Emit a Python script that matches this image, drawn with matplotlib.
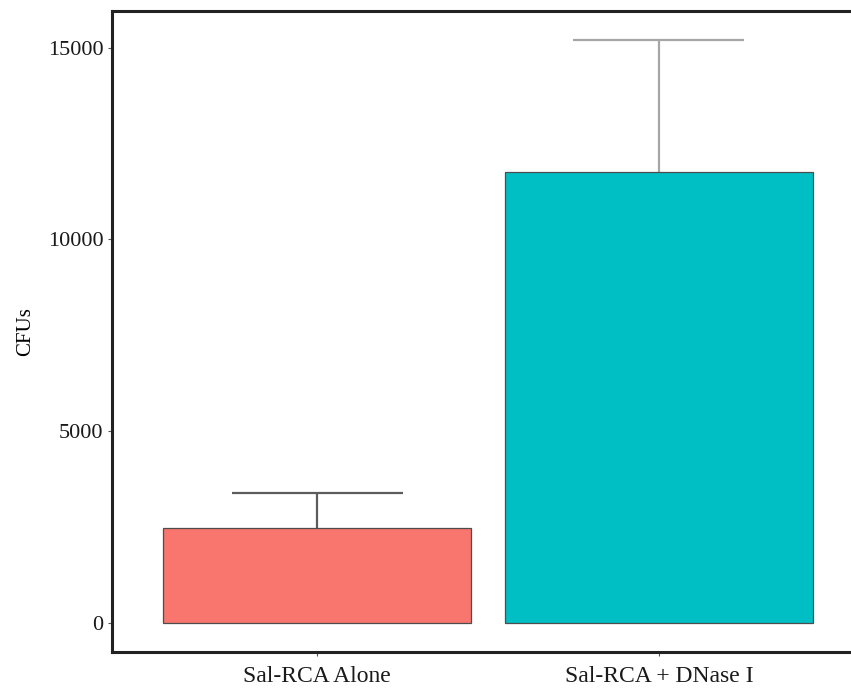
import matplotlib
matplotlib.use("Agg")
import matplotlib.pyplot as plt

# CFU counts per treatment (mean and upper error)
groups = ["Sal-RCA Alone", "Sal-RCA + DNase I"]
cfu_mean = [2470, 11750]
cfu_upper = [3400, 15200]
bar_colors = ["#F8766D", "#00BFC4"]
err_colors = ["#5c5c5c", "#a6a6a6"]

plt.rcParams['font.family'] = ['Liberation Serif', 'DejaVu Serif']

fig = plt.figure(figsize=(8.51, 6.88), dpi=100)
ax = fig.add_axes([112 / 851, 1 - 652 / 688, (864 - 112) / 851, (652 - 11) / 688])

x = list(range(1, len(groups) + 1))
ax.bar(x, cfu_mean, width=0.9, color=bar_colors, edgecolor="#4d4d4d",
       linewidth=0.9, zorder=2)

for xi, m, u, c in zip(x, cfu_mean, cfu_upper, err_colors):
    ax.vlines(xi, m, u, color=c, linewidth=1.6, zorder=1)
    ax.hlines(u, xi - 0.25, xi + 0.25, color=c, linewidth=1.6, zorder=1)

ax.set_xlim(0.4, 2.6)
ax.set_ylim(-760, 15960)
ax.set_xticks(x)
ax.set_xticklabels(groups)
ax.set_yticks([0, 5000, 10000, 15000])
ax.set_yticklabels(["0", "5000", "10000", "15000"])
ax.set_ylabel("CFUs", fontsize=15, labelpad=9)

ax.tick_params(axis="y", labelsize=16, length=3, width=0.8,
               color="#555555", labelcolor="#1a1a1a", pad=3)
ax.tick_params(axis="x", labelsize=17, length=3, width=0.8,
               color="#555555", labelcolor="#1a1a1a", pad=7)

for side in ["left", "bottom", "top"]:
    ax.spines[side].set_linewidth(2.2)
    ax.spines[side].set_color("#222222")
ax.spines["right"].set_visible(False)

fig.savefig("out.png", dpi=100)
